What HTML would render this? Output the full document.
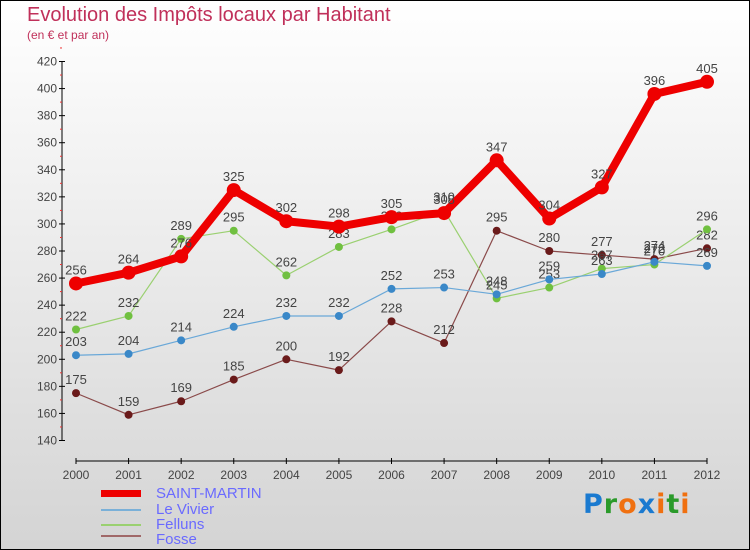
<!DOCTYPE html>
<html><head><meta charset="utf-8"><style>
body{margin:0;}
#wrap{position:relative;width:748px;height:548px;border:1px solid #000;background:linear-gradient(#fff,#d4d4d4);font-family:"Liberation Sans",sans-serif;overflow:hidden}
.t{position:absolute;left:26px;top:3px;font-size:20px;color:#c0305a}
.s{position:absolute;left:26px;top:27px;font-size:12px;color:#c0305a}
.leg{position:absolute;left:100px;font-size:15px;color:#6a6aff;line-height:15px}
.sw{position:absolute;left:-70px;width:40px}
</style></head><body>
<div id="wrap">
<div class="t">Evolution des Impôts locaux par Habitant</div>
<div class="s">(en € et par an)</div>
<svg id="c" width="750" height="550" style="position:absolute;left:0;top:0"></svg>
<div>
<div class="leg" style="top:485px;left:155px"><span class="sw" style="top:4px;height:7px;background:#e00;left:-55px"></span>SAINT-MARTIN</div>
<div class="leg" style="top:501px;left:155px"><span class="sw" style="top:7px;height:2px;background:#7ab0d8;left:-55px"></span>Le Vivier</div>
<div class="leg" style="top:516px;left:155px"><span class="sw" style="top:7px;height:2px;background:#9ad070;left:-55px"></span>Felluns</div>
<div class="leg" style="top:531px;left:155px"><span class="sw" style="top:3px;height:2px;background:#a06868;left:-55px"></span>Fosse</div>
</div>
<div style="position:absolute;left:582px;top:488px;font-size:27px;font-family:'DejaVu Sans',sans-serif;font-weight:bold;letter-spacing:1px"><span style="color:#1a7ad0">P</span><span style="color:#2a9a2a">r</span><span style="color:#f07010">o</span><span style="color:#1a7ad0">x</span><span style="color:#f07010">i</span><span style="color:#2a9a2a">t</span><span style="color:#f07010">i</span></div>
</div>
<script>
const years=[2000,2001,2002,2003,2004,2005,2006,2007,2008,2009,2010,2011,2012];
const yTicks=[140,160,180,200,220,240,260,280,300,320,340,360,380,400,420];
const saintMartin=[256,264,276,325,302,298,305,308,347,304,327,396,405];
const leVivier=[203,204,214,224,232,232,252,253,248,259,263,272,269];
const felluns=[222,232,289,295,262,283,296,310,245,253,267,270,296];
const fosse=[175,159,169,185,200,192,228,212,295,280,277,274,282];
const svg=document.getElementById('c');const NS='http://www.w3.org/2000/svg';
const x=i=>75+i*(706-75)/12;
const y=v=>439.5-(v-140)*(379/280);
function mk(t,a,p){const e=document.createElementNS(NS,t);for(const k in a)e.setAttribute(k,a[k]);(p||svg).appendChild(e);return e;}
const ax=mk('g',{});


mk('line',{x1:61,y1:y(420),x2:61,y2:y(140),stroke:'#000'},ax);
mk('line',{x1:75,y1:460,x2:706,y2:460,stroke:'#000'},ax);
yTicks.forEach(v=>{mk('line',{x1:58,x2:64,y1:y(v),y2:y(v),stroke:'#000'},ax);
mk('line',{x1:59,x2:61,y1:y(v+10),y2:y(v+10),stroke:'#e33'},ax);
const t=mk('text',{x:56,y:y(v)+4,'text-anchor':'end','font-size':12,fill:'#444'},ax);t.textContent=v;

});
years.forEach((yr,i)=>{mk('line',{x1:x(i),x2:x(i),y1:457,y2:463,stroke:'#000'},ax);
const t=mk('text',{x:x(i),y:478,'text-anchor':'middle','font-size':12,fill:'#444'},ax);t.textContent=yr;

});
function series(d,col,w,r,mcol,name){const g=mk('g',{});


mk('polyline',{points:d.map((v,i)=>x(i)+','+y(v)).join(' '),fill:'none',stroke:col,'stroke-width':w,'stroke-linejoin':'round'},g);
d.forEach((v,i)=>{const c=mk('circle',{cx:x(i),cy:y(v),r:r,fill:mcol},g);


const t=mk('text',{x:x(i),y:y(v)-9,'text-anchor':'middle','font-size':13,fill:'#444'},g);t.textContent=v;

});}
series(fosse,'#8a4a4a',1.2,4,'#6a1a1a','series-fosse');
series(felluns,'#9ad070',1.2,4,'#70c040','series-felluns');
series(leVivier,'#6aa8d8',1.2,4,'#3a88c8','series-le-vivier');
series(saintMartin,'#ee0000',8,7,'#ee0000','series-saint-martin');
</script>
</body></html>
